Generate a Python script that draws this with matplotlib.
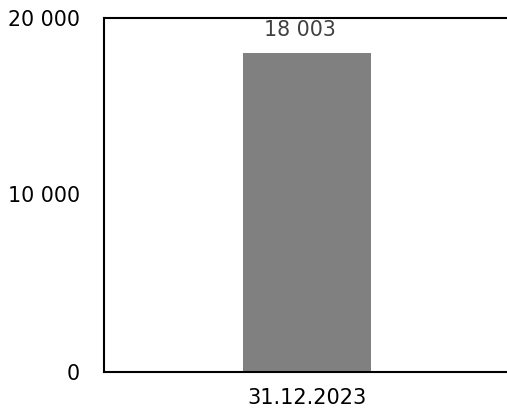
import matplotlib
matplotlib.use('Agg')
import matplotlib.pyplot as plt

categories = ['31.12.2023']
values = [18003]
yticks = [0, 10000, 20000]

def fmt(v):
    return f'{v:,}'.replace(',', ' ')

plt.rcParams['font.family'] = ['DejaVu Sans']

fig = plt.figure(figsize=(5.07, 4.16), dpi=100)
ax = fig.add_axes([103.5 / 507, 1 - 371.5 / 416, (507 - 103.5) / 507, (371.5 - 17.5) / 416])

x = list(range(len(categories)))
ax.bar(x, values, width=0.318, color='#808080')
for xi, v in zip(x, values):
    ax.annotate(fmt(v), (xi, v), xytext=(-5, 9), textcoords='offset points',
                ha='center', va='bottom', fontsize=14.8, color='#404040')

ax.set_xlim(-0.505, 0.495)
ax.set_ylim(0, 20000)
ax.set_yticks(yticks)
ax.set_yticklabels([fmt(t) for t in yticks], fontsize=14.8)
ax.set_xticks(x)
ax.set_xticklabels(categories, fontsize=15)
ax.tick_params(axis='both', length=0)
ax.tick_params(axis='y', pad=17)
ax.tick_params(axis='x', pad=12)
ax.spines['right'].set_visible(False)
for s in ['left', 'top', 'bottom']:
    ax.spines[s].set_linewidth(1.5)

fig.savefig('out.png', dpi=100)
